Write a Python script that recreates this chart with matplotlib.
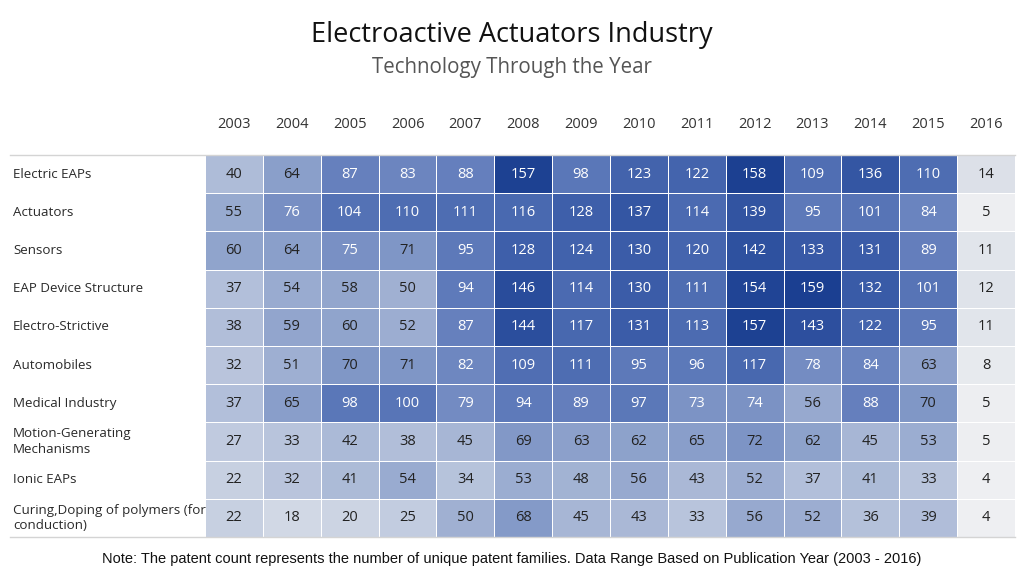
import matplotlib
matplotlib.use("Agg")
import matplotlib.pyplot as plt
import numpy as np
from matplotlib.colors import LinearSegmentedColormap
from matplotlib.lines import Line2D

years = ["2003", "2004", "2005", "2006", "2007", "2008", "2009", "2010",
         "2011", "2012", "2013", "2014", "2015", "2016"]
categories = ["Electric EAPs", "Actuators", "Sensors", "EAP Device Structure",
              "Electro-Strictive", "Automobiles", "Medical Industry",
              "Motion-Generating\nMechanisms", "Ionic EAPs",
              "Curing,Doping of polymers (for\nconduction)"]
electric_eaps = [40, 64, 87, 83, 88, 157, 98, 123, 122, 158, 109, 136, 110, 14]
actuators = [55, 76, 104, 110, 111, 116, 128, 137, 114, 139, 95, 101, 84, 5]
sensors = [60, 64, 75, 71, 95, 128, 124, 130, 120, 142, 133, 131, 89, 11]
eap_device = [37, 54, 58, 50, 94, 146, 114, 130, 111, 154, 159, 132, 101, 12]
electro_strictive = [38, 59, 60, 52, 87, 144, 117, 131, 113, 157, 143, 122, 95, 11]
automobiles = [32, 51, 70, 71, 82, 109, 111, 95, 96, 117, 78, 84, 63, 8]
medical = [37, 65, 98, 100, 79, 94, 89, 97, 73, 74, 56, 88, 70, 5]
motion = [27, 33, 42, 38, 45, 69, 63, 62, 65, 72, 62, 45, 53, 5]
ionic = [22, 32, 41, 54, 34, 53, 48, 56, 43, 52, 37, 41, 33, 4]
curing = [22, 18, 20, 25, 50, 68, 45, 43, 33, 56, 52, 36, 39, 4]

data = np.array([electric_eaps, actuators, sensors, eap_device, electro_strictive,
                 automobiles, medical, motion, ionic, curing])

W, H = 1024, 585
fig = plt.figure(figsize=(W / 100, H / 100), dpi=100)
fig.patch.set_facecolor("white")

left_px, right_px, top_px, bot_px = 205, 1015, 155, 537
ax = fig.add_axes([left_px / W, 1 - bot_px / H, (right_px - left_px) / W, (bot_px - top_px) / H])

vmin, vmax = data.min(), data.max()
anchors = [(4, "#eeeff2"), (14, "#dbe0e8"), (22, "#c6cfe1"), (40, "#aebcd8"),
           (64, "#8a9fca"), (87, "#6680bd"), (98, "#5a77b8"), (128, "#3e5faa"),
           (159, "#1b3f91")]
cmap = LinearSegmentedColormap.from_list(
    "tabblue", [((v - vmin) / (vmax - vmin), c) for v, c in anchors])
nrows, ncols = data.shape
ax.pcolormesh(np.arange(ncols + 1), np.arange(nrows + 1), data, cmap=cmap,
              vmin=vmin, vmax=vmax, edgecolors="white", linewidth=0.55)
ax.set_xlim(0, ncols)
ax.set_ylim(nrows, 0)
ax.set_axis_off()

for i in range(nrows):
    for j in range(ncols):
        v = data[i, j]
        col = "white" if v >= 73 else "#222222"
        ax.text(j + 0.5, i + 0.5, str(v), ha="center", va="center",
                fontsize=10.5, color=col, family="Open Sans")

# column headers
for j, y in enumerate(years):
    fig.text((left_px + (j + 0.5) * (right_px - left_px) / ncols) / W, 1 - 124 / H, y,
             ha="center", va="center", fontsize=10.5, color="#333333", family="Open Sans")

# row labels
row_h = (bot_px - top_px) / nrows
for i, c in enumerate(categories):
    fig.text(13 / W, 1 - (top_px + (i + 0.5) * row_h) / H, c, ha="left", va="center",
             fontsize=9.6, color="#2a2a2a", family="Open Sans", linespacing=1.25)

# top and bottom rules
for ypx in (top_px, bot_px):
    fig.add_artist(Line2D([10 / W, right_px / W], [1 - ypx / H, 1 - ypx / H],
                          color="#d4d4d4", linewidth=1.0))

fig.text(0.5, 1 - 35 / H, "Electroactive Actuators Industry", ha="center", va="center",
         fontsize=19.5, color="#111111", family="Open Sans")
fig.text(0.5, 1 - 67 / H, "Technology Through the Year", ha="center", va="center",
         fontsize=14.8, color="#555555", family="Open Sans")
fig.text(512 / W, 1 - 559 / H,
         "Note: The patent count represents the number of unique patent families. Data Range Based on Publication Year (2003 - 2016)",
         ha="center", va="center", fontsize=10.5, color="#111111", family="Liberation Sans")

fig.savefig("out.png", dpi=100, facecolor="white")
